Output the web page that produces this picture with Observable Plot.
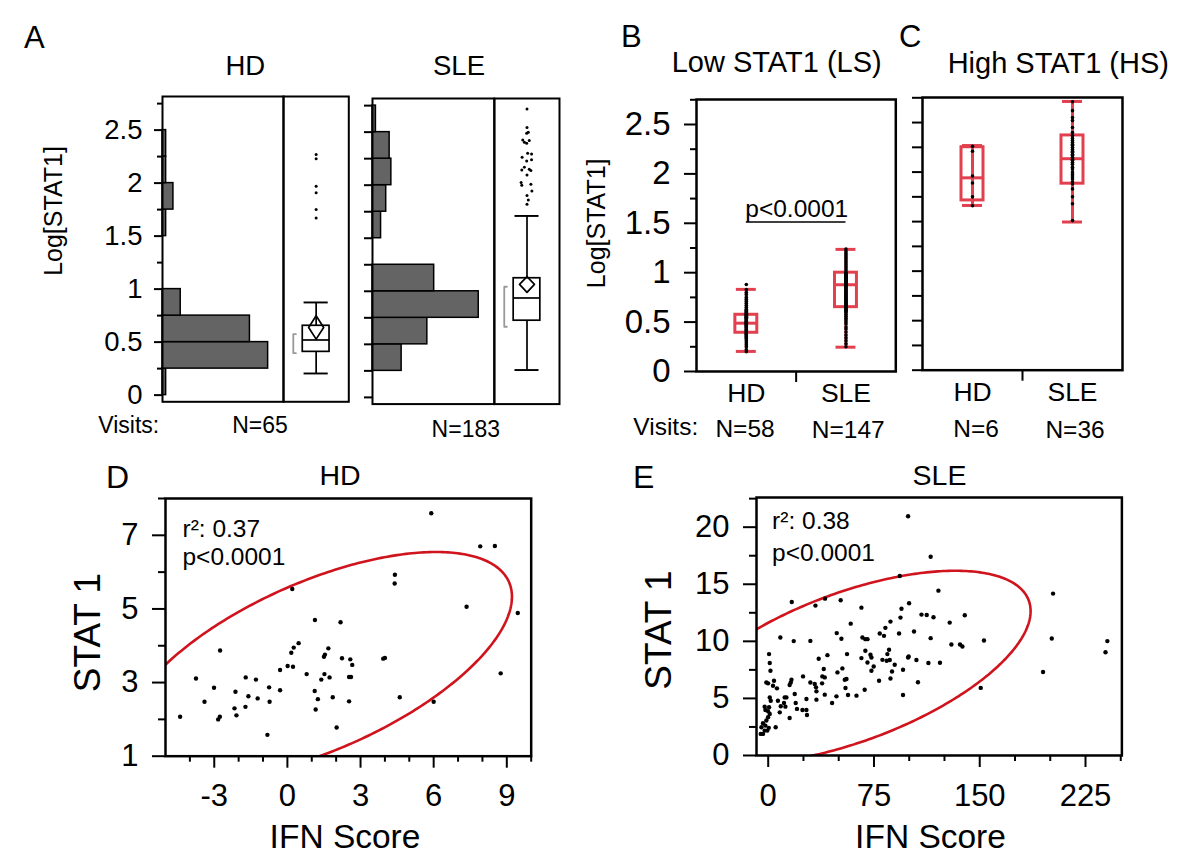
<!DOCTYPE html>
<html><head><meta charset="utf-8">
<script src="https://cdn.jsdelivr.net/npm/d3@7"></script>
<script src="https://cdn.jsdelivr.net/npm/@observablehq/plot@0.6"></script>
<style>
html,body{margin:0;padding:0;background:#fff;}
#root{position:relative;width:1200px;height:858px;overflow:hidden;font-family:"Liberation Sans",Arial,sans-serif;}
#root svg{position:absolute;overflow:visible;}
</style></head><body><div id="root"></div>
<script>
// ---------------- DATA ----------------
// Panel A: histogram of Log[STAT1] (bins of 0.25 starting at these lower edges)
const binLower = [0, 0.25, 0.5, 0.75, 1, 1.25, 1.5, 1.75, 2, 2.25, 2.5];
const binWidth = 0.25;
const hdHistCounts  = [1, 29, 24, 5, 0, 0, 1, 3, 1, 1, 0];
const sleHistCounts = [0, 17, 32, 62, 36, 0, 5, 8, 11, 10, 2];
// Panel A box plots: [whiskerLow, q1, median, q3, whiskerHigh]
const hdAllBox  = [0.204, 0.408, 0.52, 0.654, 0.874];
const sleAllBox = [0.258, 0.723, 0.937, 1.123, 1.71];
// mean diamonds: [lower95, mean, upper95]
const hdAllMean  = [0.528, 0.638, 0.748];
const sleAllMean = [0.99, 1.066, 1.138];
// shortest-half brackets [low, high]
const hdShortest  = [0.396, 0.575];
const sleShortest = [0.666, 1.043];
const hdOutliers  = [2.27, 2.23, 1.97, 1.91, 1.75, 1.67];
const sleOutliers = [2.717, 2.543, 2.5, 2.49, 2.427, 2.405, 2.396, 2.421, 2.302, 2.295, 2.264, 2.229, 2.239, 2.17, 2.144, 2.151, 2.138, 2.097, 2.025, 2.0, 2.009, 1.946, 1.902, 1.861, 1.821];
const sleOutlierJitter = [0, 0, 0.04, -0.01, -0.13, -0.08, -0.01, 0.07, 0.02, 0.14, -0.15, -0.01, 0.14, -0.08, -0.16, 0.07, 0.12, 0, -0.18, -0.16, 0.12, 0.15, 0, 0.04, 0];
const aMajorTicks = [0, 0.5, 1, 1.5, 2, 2.5];
const aMinorTicks = [0.25, 0.75, 1.25, 1.75, 2.25, 2.75];

// Panels B/C
const groups = ["HD", "SLE"];
const lsBoxes = [[0.203, 0.392, 0.489, 0.574, 0.831], [0.246, 0.651, 0.878, 1.0, 1.236]];
const hsBoxes = [[1.663, 1.714, 1.942, 2.251, 2.268], [1.496, 1.883, 2.135, 2.37, 2.713]];
const lsHD = [0.20,0.22,0.25,0.27,0.29,0.31,0.33,0.34,0.35,0.36,0.37,0.38,0.38,0.39,0.40,0.41,0.42,0.42,0.43,0.44,0.45,0.45,0.46,0.47,0.47,0.48,0.48,0.49,0.49,0.50,0.50,0.51,0.51,0.52,0.53,0.53,0.54,0.55,0.55,0.56,0.57,0.57,0.58,0.59,0.60,0.61,0.62,0.63,0.65,0.67,0.69,0.71,0.73,0.75,0.78,0.80,0.83,0.88];
const lsSLE = [0.25,0.28,0.31,0.34,0.37,0.40,0.43,0.45,0.48,0.50,0.52,0.54,0.56,0.58,0.60,0.61,0.62,0.63,0.64,0.65,0.66,0.67,0.68,0.69,0.70,0.71,0.72,0.73,0.74,0.75,0.76,0.77,0.78,0.79,0.80,0.81,0.82,0.83,0.84,0.85,0.86,0.87,0.87,0.88,0.88,0.89,0.89,0.90,0.90,0.91,0.91,0.92,0.92,0.93,0.93,0.94,0.94,0.95,0.95,0.96,0.96,0.97,0.97,0.98,0.98,0.99,0.99,1.00,1.00,1.02,1.04,1.06,1.08,1.10,1.12,1.14,1.16,1.18,1.20,1.22,1.24];
const hsHD = [2.26, 2.21, 1.96, 1.89, 1.75, 1.66];
const hsSLE = [2.71,2.62,2.55,2.52,2.45,2.40,2.37,2.34,2.32,2.30,2.28,2.27,2.25,2.23,2.21,2.20,2.18,2.17,2.15,2.13,2.12,2.10,2.08,2.05,2.03,2.00,1.98,1.97,1.95,1.93,1.90,1.88,1.83,1.75,1.68,1.51];
const bcMajorTicks = [0, 0.5, 1, 1.5, 2, 2.5];
const bcMinorTicks = [0.25, 0.75, 1.25, 1.75, 2.25, 2.75];
const pValueLevel = 1.513;

// Panel D (HD) scatter
const hdIFN = [-4.40,-3.75,-3.40,-3.01,-2.76,-2.84,-2.77,-2.13,-2.17,-2.09,-1.71,-1.60,-1.72,-1.29,-1.22,-0.82,-0.75,-0.73,-0.30,-0.30,0.01,0.20,0.23,0.16,0.26,0.46,0.79,1.13,1.12,1.25,1.16,1.39,1.52,1.50,1.54,1.68,1.73,1.86,2.02,2.18,2.24,2.58,2.66,2.53,2.61,2.53,3.93,4.00,4.41,4.40,4.61,5.90,6.00,7.35,7.91,8.51,8.75,9.45];
const hdSTAT1 = [2.07,3.11,2.48,2.86,3.87,2.00,2.07,2.75,2.30,2.11,3.14,2.63,2.34,3.08,2.57,1.58,2.87,2.48,3.34,2.79,3.45,5.54,3.43,3.81,3.95,4.07,3.23,4.70,2.77,2.55,2.27,3.08,3.23,3.70,3.76,3.93,3.14,2.60,1.78,4.64,3.66,3.63,3.48,3.15,3.15,2.49,3.65,3.67,5.93,5.69,2.60,7.60,2.48,5.06,6.70,6.71,3.25,4.89];
const dMajorX = [-3, 0, 3, 6, 9];
const dMinorX = [-4, -2, -1, 1, 2, 4, 5, 7, 8, 10];
const dMajorY = [1, 3, 5, 7];
const dMinorY = [2, 4, 6, 8];

// Panel E (SLE) scatter
const sleIFN = [99.2,93.3,99.9,16.7,40.3,51.4,33.5,66.1,94.5,93.8,86.7,58.5,83.1,103.4,48.6,79.1,82.1,92.8,8.6,51.9,66.8,68.9,70.4,18.1,29.9,0.6,1.1,1.6,42.0,35.8,55.9,66.1,68.9,72.5,73.2,70.4,74.8,73.2,81.0,84.5,85.7,84.0,86.2,89.7,87.8,86.7,95.6,99.2,99.6,78.6,68.4,95.6,39.4,38.4,40.1,49.1,52.6,55.5,54.3,54.8,56.6,62.6,45.3,48.4,40.1,38.2,33.9,34.2,34.2,29.9,33.0,24.7,27.1,16.5,16.0,15.2,18.8,19.5,20.4,24.3,27.1,27.5,15.2,11.7,12.9,11.2,12.2,8.9,8.2,6.9,6.2,3.4,4.1,-1.3,-0.1,1.8,1.1,0.6,-2.5,-2.0,-0.1,1.1,-0.1,-1.3,-3.7,-2.0,-4.8,-2.5,-3.7,-5.3,-0.6,0.4,5.3,115.2,120.7,202.0,108.7,112.4,117.2,128.7,139.4,115.2,129.9,136.0,137.7,153.0,201.1,105.1,113.6,121.8,106.2,150.7,194.9,240.5,239.2];
const sleSTAT1 = [20.96,15.72,13.33,13.45,13.74,13.6,13.13,12.95,12.86,12.08,11.73,11.55,11.18,10.86,10.72,10.68,10.48,10.68,10.33,10.22,10.33,10.19,10.19,10.02,10.04,8.88,8.10,7.42,8.79,8.47,8.88,8.53,9.17,8.82,8.59,8.15,7.80,7.42,8.38,8.88,9.26,8.30,8.36,7.95,7.36,6.75,7.51,8.59,8.68,6.55,5.76,5.30,7.57,6.93,6.84,7.28,7.63,6.70,6.64,5.91,5.30,5.24,4.60,5.18,5.33,6.32,5.97,5.62,4.89,6.40,6.26,6.93,4.95,6.64,6.40,6.17,5.39,4.60,4.08,3.99,3.99,3.55,3.29,5.09,5.09,4.60,4.28,4.31,3.78,4.80,5.88,6.11,6.55,6.40,6.32,4.80,5.09,4.22,4.28,3.99,3.87,3.64,3.35,3.06,2.82,2.62,2.47,2.18,1.89,1.89,2.18,2.42,2.47,17.41,14.44,14.18,12.34,12.31,12.11,11.64,12.29,10.28,9.72,9.72,9.55,10.07,10.25,8.36,8.10,8.12,6.42,5.92,7.31,10.02,9.04];
const eMajorX = [0, 75, 150, 225];
const eMinorX = [25, 50, 100, 125, 175, 200, 250];
const eMajorY = [0, 5, 10, 15, 20];
const eMinorY = [2.5, 7.5, 12.5, 17.5, 22.5];
const statsD = ["r\u00b2: 0.37", "p<0.0001"];
const statsE = ["r\u00b2: 0.38", "p<0.0001"];

// ---------------- STYLE ----------------
const FONT = "Liberation Sans, Arial, sans-serif";
const RED = "#e2404f";
const ERED = "#d0141e";
const root = document.getElementById("root");

function place(opts, fx0, fy0, fx1, fy1, m) {
  const [mt, mr, mb, ml] = m;
  const svg = Plot.plot({
    ...opts,
    width: ml + (fx1 - fx0) + mr,
    height: mt + (fy1 - fy0) + mb,
    marginTop: mt, marginRight: mr, marginBottom: mb, marginLeft: ml,
    style: {background: "none", overflow: "visible", fontFamily: FONT, color: "#000", maxWidth: "none"}
  });
  svg.style.left = (fx0 - ml) + "px";
  svg.style.top = (fy0 - mt) + "px";
  root.appendChild(svg);
}
const M = [12, 12, 12, 80];
const fmt = d => String(d);
const blank = () => "";

// ---------------- PANEL A ----------------
const A_Y = [-0.063, 2.817];
function histPlot(counts, frame, withLabels) {
  const bins = binLower.map((b, i) => ({lo: b, hi: b + binWidth, n: counts[i]})).filter(d => d.n > 0);
  const marks = [
    Plot.rectX(bins, {x1: 0, x2: "n", y1: "lo", y2: "hi", fill: "#646464", stroke: "#000", strokeWidth: 1.5}),
  ];
  if (withLabels) {
    marks.push(Plot.axisY({ticks: aMajorTicks, tickSize: 8, tickPadding: 12, fontSize: 27.5, strokeWidth: 2, tickFormat: fmt, label: null}));
    marks.push(Plot.axisY({ticks: aMinorTicks, tickSize: 5, tickFormat: blank, strokeWidth: 2, label: null}));
  } else {
    marks.push(Plot.axisY({ticks: aMajorTicks.concat(aMinorTicks), tickSize: 8, tickFormat: blank, strokeWidth: 2, label: null}));
  }
  marks.push(Plot.frame({stroke: "#000", strokeWidth: 2}));
  place({
    x: {domain: [0, d3.max(counts) / 0.873], axis: null},
    y: {domain: A_Y, axis: null},
    marks
  }, ...frame, M);
}
function boxA(box, mean, shortest, outliers, jitter, frame) {
  const diamond = [[0, mean[2]], [0.23, mean[1]], [0, mean[0]], [-0.23, mean[1]], [0, mean[2]]];
  const bracket = [[-0.62, shortest[1]], [-0.70, shortest[1]], [-0.70, shortest[0]], [-0.62, shortest[0]]];
  place({
    x: {domain: [-1, 1], axis: null},
    y: {domain: A_Y, axis: null},
    marks: [
      Plot.ruleX([box], {x: 0, y1: d => d[0], y2: d => d[4], stroke: "#000", strokeWidth: 1.7}),
      Plot.rect([box], {x1: -0.41, x2: 0.41, y1: d => d[1], y2: d => d[3], fill: "#fff", stroke: "#000", strokeWidth: 1.7}),
      Plot.ruleY([box[2]], {x1: -0.41, x2: 0.41, stroke: "#000", strokeWidth: 1.7}),
      Plot.ruleY([box[0], box[4]], {x1: -0.37, x2: 0.37, stroke: "#000", strokeWidth: 1.9}),
      Plot.line(diamond, {x: d => d[0], y: d => d[1], stroke: "#000", strokeWidth: 1.7}),
      Plot.line(bracket, {x: d => d[0], y: d => d[1], stroke: "#999", strokeWidth: 1.8}),
      Plot.dot(outliers, {x: (d, i) => jitter ? jitter[i] : 0, y: d => d, r: 1.5, fill: "#000", stroke: null}),
      Plot.frame({stroke: "#000", strokeWidth: 2})
    ]
  }, ...frame, M);
}
histPlot(hdHistCounts, [161.7, 95.7, 282.7, 401], true);
boxA(hdAllBox, hdAllMean, hdShortest, hdOutliers, null, [282.7, 95.7, 348, 401]);
histPlot(sleHistCounts, [372.3, 97.7, 494, 403.3], false);
boxA(sleAllBox, sleAllMean, sleShortest, sleOutliers, sleOutlierJitter, [494, 97.7, 559, 403.3]);

// ---------------- PANELS B, C ----------------
function groupPlot(boxes, values, frame, withLabels, extra) {
  const pos = i => i + 0.5;
  const bd = boxes.map((b, i) => ({i, lo: b[0], q1: b[1], med: b[2], q3: b[3], hi: b[4]}));
  const pts = values.flatMap((arr, i) => arr.map(v => ({i, v})));
  const marks = [
    Plot.ruleX(bd, {x: d => pos(d.i), y1: "lo", y2: "hi", stroke: RED, strokeWidth: 3}),
    Plot.rect(bd, {x1: d => pos(d.i) - 0.11, x2: d => pos(d.i) + 0.11, y1: "q1", y2: "q3", fill: "none", stroke: RED, strokeWidth: 3}),
    Plot.ruleY(bd, {y: "med", x1: d => pos(d.i) - 0.11, x2: d => pos(d.i) + 0.11, stroke: RED, strokeWidth: 3}),
    Plot.ruleY(bd, {y: "lo", x1: d => pos(d.i) - 0.1, x2: d => pos(d.i) + 0.1, stroke: RED, strokeWidth: 3}),
    Plot.ruleY(bd, {y: "hi", x1: d => pos(d.i) - 0.1, x2: d => pos(d.i) + 0.1, stroke: RED, strokeWidth: 3}),
    Plot.dot(pts, {x: d => pos(d.i), y: "v", r: 1.8, fill: "#000", stroke: null}),
    Plot.axisX({ticks: groups.map((g, i) => pos(i)), tickFormat: d => groups[Math.floor(d)], tickSize: 0, tickPadding: 12, fontSize: 26.5, label: null}),
    Plot.axisX({ticks: [1], tickSize: 11, tickFormat: blank, strokeWidth: 2, label: null}),
  ];
  if (withLabels) {
    marks.push(Plot.axisY({ticks: bcMajorTicks, tickSize: 12, tickPadding: 14, fontSize: 33, strokeWidth: 2, tickFormat: fmt, label: null}));
    marks.push(Plot.axisY({ticks: bcMinorTicks, tickSize: 6, tickFormat: blank, strokeWidth: 2, label: null}));
  } else {
    marks.push(Plot.axisY({ticks: bcMajorTicks.concat(bcMinorTicks), tickSize: 10, tickFormat: blank, strokeWidth: 2, label: null}));
  }
  if (extra) marks.push(...extra);
  marks.push(Plot.frame({stroke: "#000", strokeWidth: 2.5}));
  place({
    x: {domain: [0, 2], axis: null},
    y: {domain: [0, 2.753], axis: null},
    marks
  }, ...frame, [12, 12, 50, 80]);
}
groupPlot(lsBoxes, [lsHD, lsSLE], [695.7, 99, 895, 371], true,
  [Plot.ruleY([pValueLevel], {x1: 0.5, x2: 1.5, stroke: "#000", strokeWidth: 1.5})]);
groupPlot(hsBoxes, [hsHD, hsSLE], [921.7, 97.3, 1121.7, 370], false);

// ---------------- PANELS D, E ----------------
function densityEllipse(xs, ys, level) {
  const n = xs.length, mx = d3.mean(xs), my = d3.mean(ys);
  let sxx = 0, syy = 0, sxy = 0;
  for (let i = 0; i < n; i++) {
    const dx = xs[i] - mx, dy = ys[i] - my;
    sxx += dx * dx; syy += dy * dy; sxy += dx * dy;
  }
  sxx /= n - 1; syy /= n - 1; sxy /= n - 1;
  const c = Math.sqrt(-2 * Math.log(1 - level));
  const a = Math.sqrt(sxx), b = sxy / a, d = Math.sqrt(syy - b * b);
  return d3.range(0, 361).map(k => {
    const t = k * Math.PI / 180, u = c * Math.cos(t), v = c * Math.sin(t);
    return {x: mx + a * u, y: my + b * u + d * v};
  });
}
function scatter(xs, ys, stats, xdom, ydom, ticks, frame, textDy) {
  const pts = xs.map((x, i) => ({x, y: ys[i]}));
  place({
    x: {domain: xdom, axis: null},
    y: {domain: ydom, axis: null},
    marks: [
      Plot.line(densityEllipse(xs, ys, 0.95), {x: "x", y: "y", stroke: ERED, strokeWidth: 2.6, clip: true}),
      Plot.dot(pts, {x: "x", y: "y", r: 2.2, fill: "#000", stroke: null}),
      Plot.text([stats[0]], {text: d => d, frameAnchor: "top-left", textAnchor: "start", lineAnchor: "top", dx: textDy[0], dy: textDy[1], fontSize: 24.5}),
      Plot.text([stats[1]], {text: d => d, frameAnchor: "top-left", textAnchor: "start", lineAnchor: "top", dx: textDy[0], dy: textDy[2], fontSize: 24.5}),
      Plot.axisY({ticks: ticks.majorY, tickSize: 13, tickPadding: 14, fontSize: 31, strokeWidth: 2, tickFormat: fmt, label: null}),
      Plot.axisY({ticks: ticks.minorY, tickSize: 7, tickFormat: blank, strokeWidth: 2, label: null}),
      Plot.axisX({ticks: ticks.majorX, tickSize: 12, tickPadding: 16, fontSize: 31, strokeWidth: 2, tickFormat: fmt, label: null}),
      Plot.axisX({ticks: ticks.minorX, tickSize: 6, tickFormat: blank, strokeWidth: 2, label: null}),
      Plot.frame({stroke: "#000", strokeWidth: 2.5})
    ]
  }, ...frame, [12, 12, 60, 80]);
}
scatter(hdIFN, hdSTAT1, statsD, [-5, 10], [1, 8],
  {majorX: dMajorX, minorX: dMinorX, majorY: dMajorY, minorY: dMinorY},
  [165, 498.3, 530.7, 756], [17, 21, 49.5]);
scatter(sleIFN, sleSTAT1, statsE, [-8.3, 250.8], [0, 22.6],
  {majorX: eMajorX, minorX: eMinorX, majorY: eMajorY, minorY: eMinorY},
  [755.7, 497, 1121.1, 755], [15.6, 14.2, 45.8]);

// ---------------- TEXT OVERLAY ----------------
const labels = [
  {t: "A", x: 24, y: 48.3, s: 31, a: "start"},
  {t: "HD", x: 245.3, y: 75, s: 27.5},
  {t: "SLE", x: 459, y: 75, s: 27.5},
  {t: "Log[STAT1]", x: 62, y: 211, s: 25, rot: true},
  {t: "Visits:", x: 98.3, y: 433, s: 23, a: "start"},
  {t: "N=65", x: 260, y: 433, s: 23},
  {t: "N=183", x: 465.8, y: 436.7, s: 23},
  {t: "B", x: 621, y: 46.7, s: 31, a: "start"},
  {t: "Low STAT1 (LS)", x: 776.7, y: 71.7, s: 29},
  {t: "C", x: 899, y: 46.7, s: 31, a: "start"},
  {t: "High STAT1 (HS)", x: 1058.3, y: 73, s: 29},
  {t: "Log[STAT1]", x: 605, y: 223.3, s: 25, rot: true},
  {t: "p<0.0001", x: 796.7, y: 216.7, s: 24.5},
  {t: "Visits:", x: 633.3, y: 435, s: 24.5, a: "start"},
  {t: "N=58", x: 745, y: 436.7, s: 24.5},
  {t: "N=147", x: 848.3, y: 438, s: 24.5},
  {t: "N=6", x: 976, y: 436.7, s: 24.5},
  {t: "N=36", x: 1075, y: 438, s: 24.5},
  {t: "D", x: 106, y: 488.3, s: 32, a: "start"},
  {t: "HD", x: 340, y: 485, s: 28.5},
  {t: "STAT 1", x: 100, y: 632.5, s: 37, rot: true},
  {t: "IFN Score", x: 345, y: 848.3, s: 33.5},
  {t: "E", x: 633, y: 488.3, s: 32, a: "start"},
  {t: "SLE", x: 939.5, y: 485, s: 28.5},
  {t: "STAT 1", x: 670.6, y: 630, s: 37, rot: true},
  {t: "IFN Score", x: 930.5, y: 848, s: 33.5}
];
const overlay = d3.select(root).append("svg")
  .attr("width", 1200).attr("height", 858)
  .style("left", "0px").style("top", "0px")
  .attr("font-family", FONT);
overlay.selectAll("text").data(labels).join("text")
  .attr("transform", d => `translate(${d.x},${d.y})` + (d.rot ? " rotate(-90)" : ""))
  .attr("text-anchor", d => d.a || "middle")
  .attr("font-size", d => d.s)
  .attr("fill", "#000")
  .text(d => d.t);
</script></body></html>
